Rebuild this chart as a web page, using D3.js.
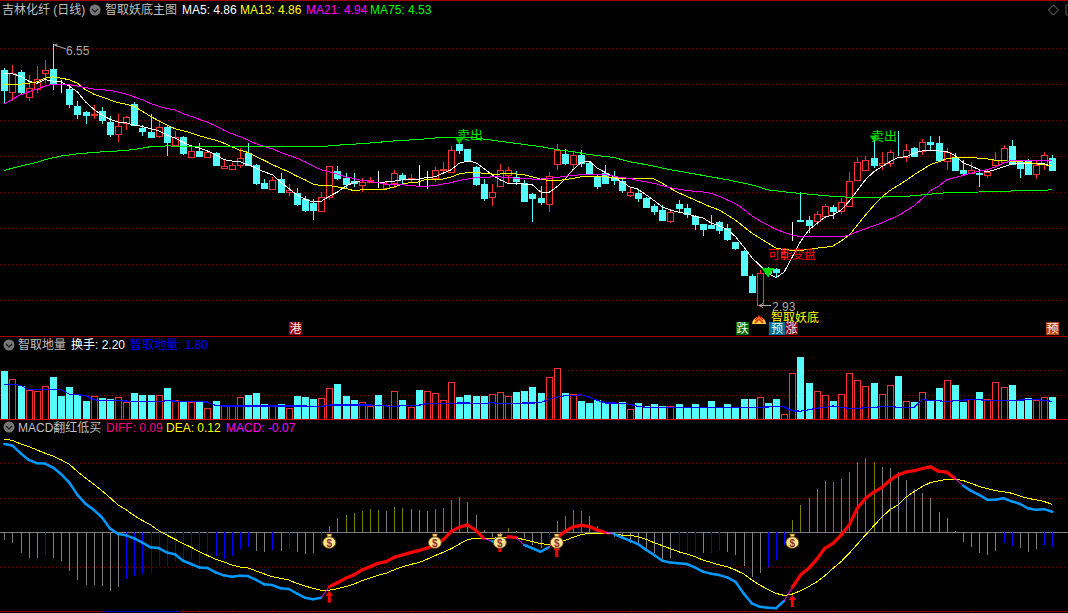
<!DOCTYPE html>
<html><head><meta charset="utf-8">
<style>html,body{margin:0;padding:0;background:#000;overflow:hidden}svg{display:block}text{font-family:"Liberation Sans","Noto Sans CJK SC",sans-serif;font-size:12px}</style>
<script src="https://cdn.jsdelivr.net/npm/d3@7/dist/d3.min.js"></script></head><body><svg id="c" width="1068" height="613"></svg>
<script>
const open=[6.19,5.89,6.16,5.82,5.93,6.15,6.21,5.97,5.93,5.70,
5.61,5.57,5.62,5.47,5.31,5.46,5.72,5.39,5.33,5.28,
5.40,5.15,5.26,4.99,5.07,4.99,5.04,4.84,4.82,4.87,
5.04,4.88,4.63,4.54,4.68,4.50,4.48,4.40,4.35,4.24,
4.43,4.79,4.70,4.65,4.60,4.64,4.63,4.56,4.63,4.74,
4.68,4.68,4.69,4.70,4.81,4.78,5.17,5.10,4.85,4.61,
4.43,4.59,4.74,4.71,4.62,4.47,4.42,4.34,4.89,5.03,
4.89,5.01,4.90,4.72,4.76,4.69,4.65,4.46,4.48,4.42,
4.31,4.25,4.10,4.33,4.28,4.17,4.06,4.04,4.08,4.00,
3.81,3.68,3.33,2.93,3.44,3.43,3.60,4.09,4.11,4.11,
4.10,4.17,4.29,4.24,4.31,4.67,4.81,4.97,4.88,4.90,
5.06,4.99,5.11,5.07,5.19,5.18,4.93,4.99,4.81,4.77,
4.76,4.73,4.87,4.91,5.14,4.91,4.94,4.75,4.89,4.97];
const close=[5.91,6.15,5.89,5.95,6.07,6.19,6.00,5.97,5.72,5.58,
5.57,5.58,5.50,5.30,5.41,5.54,5.43,5.35,5.26,5.40,
5.19,5.26,5.04,5.07,5.00,5.05,4.88,4.86,4.87,4.97,
4.87,4.63,4.56,4.67,4.50,4.53,4.34,4.25,4.25,4.43,
4.86,4.69,4.61,4.63,4.64,4.66,4.63,4.61,4.76,4.68,
4.69,4.68,4.69,4.81,4.82,5.09,5.08,4.93,4.61,4.41,
4.50,4.81,4.80,4.65,4.38,4.41,4.36,4.72,5.09,4.90,
5.02,4.90,4.77,4.59,4.63,4.66,4.53,4.50,4.42,4.29,
4.23,4.11,4.22,4.28,4.20,4.06,3.99,4.00,3.97,3.85,
3.72,3.35,3.11,3.38,3.38,3.39,3.67,4.09,4.10,4.04,
4.19,4.31,4.23,4.36,4.65,4.92,4.95,4.87,4.90,5.06,
5.05,5.08,5.00,5.19,5.17,4.94,5.06,4.81,4.76,4.80,
4.75,4.78,4.94,5.11,4.89,4.84,4.75,4.87,5.01,4.81];
const high=[6.22,6.27,6.19,6.12,6.25,6.33,6.55,6.06,5.99,5.76,
5.63,5.71,5.68,5.55,5.58,5.56,5.75,5.43,5.58,5.50,
5.43,5.35,5.28,5.15,5.18,5.09,5.06,4.94,4.90,5.11,
5.18,4.89,4.68,4.71,4.76,4.61,4.55,4.44,4.40,4.50,
4.86,4.86,4.76,4.76,4.69,4.71,4.79,4.64,4.81,4.77,
4.75,4.88,4.79,4.85,4.92,5.14,5.21,5.10,4.86,4.68,
4.61,4.89,4.85,4.79,4.67,4.48,4.58,4.78,5.17,5.10,
5.06,5.08,4.92,4.74,4.87,4.79,4.69,4.55,4.53,4.43,
4.33,4.32,4.23,4.39,4.33,4.18,4.06,4.18,4.10,4.06,
3.81,3.69,3.36,3.42,3.46,3.44,3.72,4.09,4.50,4.17,
4.24,4.34,4.32,4.41,4.78,4.98,5.00,5.23,5.05,5.08,
5.35,5.17,5.12,5.23,5.28,5.28,5.11,5.04,4.94,4.91,
4.81,4.81,5.05,5.15,5.22,4.95,4.96,4.94,5.05,5.01];
const low=[5.72,5.76,5.85,5.77,5.87,6.01,5.91,5.88,5.66,5.51,
5.45,5.51,5.45,5.26,5.20,5.36,5.41,5.28,5.25,5.25,
5.00,5.12,5.02,4.98,4.99,4.98,4.87,4.82,4.81,4.84,
4.86,4.60,4.54,4.53,4.49,4.44,4.31,4.22,4.11,4.23,
4.39,4.67,4.55,4.57,4.50,4.62,4.56,4.55,4.55,4.61,
4.64,4.57,4.54,4.64,4.77,4.77,5.03,4.91,4.58,4.37,
4.30,4.59,4.61,4.60,4.36,4.09,4.32,4.22,4.80,4.87,
4.82,4.85,4.76,4.54,4.61,4.60,4.48,4.43,4.36,4.28,
4.18,4.10,4.07,4.22,4.14,3.97,3.89,3.99,3.92,3.82,
3.70,3.35,3.10,2.93,3.32,3.32,3.56,3.82,4.09,3.93,
4.04,4.16,4.13,4.19,4.31,4.67,4.80,4.84,4.81,4.85,
5.00,4.91,4.98,5.01,5.09,4.91,4.80,4.80,4.74,4.75,
4.57,4.70,4.85,4.90,4.88,4.69,4.73,4.68,4.81,4.80];
const ma5=[6.14,6.14,6.11,6.04,6.01,6.06,6.04,6.03,5.97,5.89,
5.75,5.65,5.57,5.51,5.47,5.46,5.43,5.41,5.38,5.35,
5.29,5.25,5.19,5.14,5.11,5.07,5.02,4.95,4.93,4.92,
4.88,4.83,4.78,4.74,4.64,4.55,4.46,4.40,4.36,4.37,
4.44,4.50,4.58,4.63,4.66,4.65,4.63,4.64,4.65,4.67,
4.68,4.68,4.70,4.71,4.76,4.81,4.90,4.93,4.91,4.83,
4.74,4.67,4.62,4.62,4.61,4.60,4.50,4.49,4.57,4.68,
4.81,4.91,4.93,4.83,4.77,4.71,4.64,4.57,4.54,4.46,
4.38,4.29,4.25,4.22,4.20,4.16,4.14,4.07,4.03,3.98,
3.88,3.74,3.59,3.48,3.37,3.31,3.39,3.60,3.81,3.97,
4.06,4.15,4.18,4.25,4.37,4.52,4.67,4.78,4.85,4.92,
4.98,4.99,5.04,5.07,5.08,5.07,5.06,5.01,4.91,4.86,
4.81,4.78,4.81,4.85,4.89,4.89,4.90,4.89,4.89,4.86];
const ma13=[6.00,6.00,6.00,6.01,6.03,6.08,6.10,6.08,6.06,6.01,
5.92,5.86,5.82,5.78,5.74,5.72,5.69,5.62,5.55,5.49,
5.43,5.38,5.35,5.32,5.28,5.25,5.22,5.18,5.13,5.08,
5.05,4.99,4.94,4.88,4.83,4.78,4.72,4.67,4.61,4.59,
4.59,4.57,4.55,4.52,4.53,4.53,4.54,4.54,4.57,4.61,
4.63,4.64,4.68,4.68,4.68,4.71,4.75,4.77,4.77,4.76,
4.75,4.75,4.76,4.75,4.74,4.71,4.68,4.66,4.66,4.67,
4.69,4.71,4.72,4.72,4.71,4.70,4.69,4.69,4.69,4.69,
4.68,4.62,4.55,4.49,4.44,4.39,4.34,4.29,4.25,4.18,
4.11,4.02,3.93,3.86,3.79,3.72,3.70,3.69,3.69,3.70,
3.72,3.73,3.75,3.82,3.90,4.04,4.18,4.31,4.43,4.52,
4.59,4.66,4.74,4.81,4.88,4.92,4.96,4.98,4.98,4.98,
4.97,4.96,4.94,4.94,4.92,4.92,4.91,4.89,4.88,4.86];
const ma21=[5.72,5.79,5.85,5.89,5.93,5.97,6.00,6.00,5.99,5.97,
5.95,5.93,5.92,5.91,5.89,5.86,5.82,5.78,5.73,5.69,
5.66,5.64,5.59,5.55,5.51,5.47,5.42,5.36,5.31,5.27,
5.22,5.17,5.13,5.10,5.05,5.01,4.97,4.92,4.86,4.81,
4.78,4.75,4.71,4.69,4.66,4.65,4.63,4.61,4.61,4.60,
4.59,4.58,4.58,4.59,4.61,4.63,4.66,4.68,4.70,4.70,
4.71,4.71,4.70,4.69,4.69,4.68,4.68,4.69,4.70,4.72,
4.73,4.74,4.75,4.75,4.74,4.72,4.70,4.69,4.66,4.64,
4.62,4.59,4.56,4.54,4.52,4.51,4.50,4.48,4.44,4.39,
4.34,4.26,4.17,4.10,4.04,3.98,3.94,3.90,3.88,3.88,
3.88,3.88,3.88,3.88,3.90,3.95,3.99,4.03,4.07,4.12,
4.17,4.24,4.31,4.41,4.52,4.58,4.67,4.70,4.73,4.76,
4.79,4.81,4.85,4.90,4.94,4.94,4.94,4.94,4.94,4.94];
const ma75At=[0,2,4,5,7,9,11,14,16,18,20,24,28,32,36,39,42,44,46,48,51,53,55,58,60,62,64,66,68,70,72,75,77,79,82,84,87,89,92,94,97,99,102,105,108,111,114,116,120,122,127,129];
const ma75=[4.80,4.86,4.91,4.95,5.00,5.03,5.05,5.07,5.09,5.13,5.14,5.13,5.13,5.13,5.13,5.13,5.16,5.17,5.19,5.21,5.23,5.25,5.26,5.25,5.22,5.19,5.16,5.13,5.09,5.06,5.02,4.98,4.92,4.88,4.81,4.77,4.71,4.67,4.60,4.53,4.49,4.47,4.44,4.42,4.43,4.44,4.47,4.49,4.50,4.51,4.52,4.53];
const turnover=[4.90,4.07,3.40,2.97,2.87,3.37,4.30,2.30,3.30,2.60,
1.80,2.37,2.17,2.07,2.27,1.70,2.70,2.40,2.50,2.47,
3.20,1.97,1.83,1.70,1.70,1.17,1.80,1.37,1.37,2.27,
2.50,2.70,1.50,1.37,1.50,1.17,2.30,2.20,2.00,2.17,
3.20,3.60,2.30,1.90,1.77,1.37,2.50,1.47,2.87,1.90,
1.27,3.00,2.87,2.67,1.97,3.77,2.20,2.40,2.30,2.30,
2.57,2.77,2.37,2.80,2.90,3.30,2.70,4.27,5.17,2.70,
2.57,1.80,1.60,1.90,1.67,1.67,1.70,1.07,1.60,1.30,
1.50,1.30,1.37,1.50,1.20,1.50,1.17,1.80,1.17,1.50,
1.17,2.00,2.00,2.27,1.60,2.00,0.47,4.67,6.30,3.70,
2.87,2.47,1.80,2.57,4.67,3.97,3.37,3.70,2.57,3.47,
4.40,1.87,1.70,2.77,1.80,3.20,3.97,3.50,1.70,2.07,
2.80,2.07,3.77,3.27,3.50,1.80,2.10,1.97,2.27,2.20];
const lowVol=[3.53,3.53,3.43,3.03,3.03,3.00,3.00,2.97,2.53,2.47,
2.40,1.97,1.87,1.87,1.87,1.83,1.77,1.77,1.77,1.77,
1.87,1.83,1.80,1.80,1.77,1.73,1.37,1.33,1.33,1.33,
1.33,1.33,1.33,1.33,1.33,1.33,1.33,1.33,1.27,1.27,
1.43,1.43,1.43,1.43,1.43,1.43,1.37,1.33,1.27,1.37,
1.37,1.40,1.57,1.57,1.57,1.60,1.63,1.63,1.60,1.57,
1.67,1.57,1.57,1.60,1.63,1.63,1.67,2.00,2.23,2.37,
2.37,2.47,2.23,1.90,1.63,1.63,1.60,1.50,1.30,1.20,
1.17,1.17,1.17,1.17,1.17,1.17,1.17,1.17,1.17,1.17,
1.17,1.17,1.17,1.20,1.23,1.27,1.23,0.83,0.80,0.93,
1.10,1.17,1.33,1.20,1.07,1.03,1.17,1.17,1.27,1.27,
1.20,1.20,1.20,1.97,1.90,1.87,1.77,1.87,1.93,1.97,
1.97,1.87,1.87,1.87,1.87,1.93,1.97,1.97,1.90,1.80];
// flat days whose turnover bar is drawn as a rising day
const flatUpDays=[52,97];
const macd=[-0.033,-0.045,-0.088,-0.111,-0.111,-0.098,-0.111,-0.123,-0.166,-0.206,
-0.228,-0.228,-0.232,-0.253,-0.238,-0.201,-0.188,-0.179,-0.175,-0.144,
-0.146,-0.127,-0.123,-0.117,-0.134,-0.113,-0.102,-0.115,-0.102,-0.074,
-0.065,-0.079,-0.085,-0.076,-0.079,-0.074,-0.085,-0.094,-0.089,-0.055,
0.027,0.062,0.075,0.082,0.092,0.101,0.097,0.092,0.108,0.104,
0.100,0.097,0.092,0.100,0.104,0.140,0.153,0.130,0.075,0.010,
-0.019,-0.026,0.019,0.006,-0.026,-0.055,-0.069,-0.033,0.049,0.071,
0.097,0.092,0.071,0.027,0.003,-0.019,-0.019,-0.048,-0.055,-0.076,
-0.091,-0.117,-0.113,-0.084,-0.084,-0.091,-0.091,-0.088,-0.079,-0.085,
-0.097,-0.146,-0.192,-0.175,-0.149,-0.120,-0.055,0.053,0.118,0.149,
0.188,0.222,0.218,0.231,0.261,0.304,0.322,0.304,0.284,0.278,
0.261,0.227,0.188,0.170,0.149,0.088,0.062,0.006,-0.040,-0.062,
-0.088,-0.097,-0.079,-0.048,-0.058,-0.066,-0.084,-0.074,-0.055,-0.065];
// g = grey, o = olive, b = blue
const macdKind="ggggg"+"bgggg"+"ggggg"+"bbbbb"+"bbbbb"+"bbbbb"+"bggbg"+"bgggb"+"ooooo"+"oogoo"+"gggoo"+"ooggg"+"ggogg"+"ggboo"+"ooggg"+"ggggg"+"gggbb"+"bgbbg"+"ggggb"+"bbooo"+"ooooo"+"ooogg"+"ggggg"+"ggggg"+"gggbb"+"gggbb";
const diff=[0.382,0.375,0.342,0.313,0.299,0.297,0.280,0.251,0.215,0.162,
0.123,0.097,0.065,0.017,-0.007,-0.013,-0.026,-0.045,-0.065,-0.068,
-0.087,-0.095,-0.123,-0.137,-0.152,-0.154,-0.173,-0.186,-0.192,-0.188,
-0.189,-0.206,-0.225,-0.228,-0.242,-0.245,-0.264,-0.283,-0.289,-0.283,
-0.235,-0.218,-0.199,-0.185,-0.163,-0.149,-0.134,-0.127,-0.108,-0.098,
-0.088,-0.079,-0.069,-0.055,-0.033,0.003,0.022,0.032,0.010,-0.026,
-0.038,-0.048,-0.019,-0.023,-0.055,-0.069,-0.084,-0.065,-0.026,0.003,
0.023,0.030,0.025,0.010,-0.001,-0.007,-0.022,-0.036,-0.051,-0.076,
-0.098,-0.123,-0.131,-0.134,-0.137,-0.152,-0.170,-0.179,-0.185,-0.195,
-0.214,-0.264,-0.307,-0.322,-0.326,-0.328,-0.296,-0.238,-0.185,-0.156,
-0.117,-0.069,-0.048,-0.012,0.032,0.104,0.147,0.173,0.193,0.224,
0.248,0.261,0.266,0.276,0.283,0.264,0.260,0.234,0.202,0.179,
0.162,0.141,0.141,0.147,0.134,0.123,0.104,0.097,0.100,0.089];
const dea=[0.401,0.398,0.382,0.371,0.356,0.342,0.330,0.313,0.294,0.263,
0.234,0.208,0.180,0.150,0.118,0.097,0.072,0.051,0.032,0.007,
-0.012,-0.030,-0.048,-0.065,-0.084,-0.100,-0.117,-0.128,-0.141,-0.150,
-0.154,-0.167,-0.180,-0.192,-0.199,-0.206,-0.221,-0.232,-0.242,-0.251,
-0.250,-0.244,-0.235,-0.225,-0.209,-0.198,-0.186,-0.177,-0.162,-0.149,
-0.139,-0.131,-0.117,-0.101,-0.087,-0.071,-0.051,-0.032,-0.026,-0.026,
-0.026,-0.023,-0.022,-0.023,-0.032,-0.040,-0.049,-0.053,-0.048,-0.035,
-0.022,-0.010,-0.004,-0.004,-0.004,-0.006,-0.012,-0.013,-0.019,-0.030,
-0.045,-0.058,-0.071,-0.084,-0.094,-0.105,-0.120,-0.130,-0.141,-0.149,
-0.163,-0.180,-0.206,-0.228,-0.247,-0.264,-0.273,-0.267,-0.253,-0.235,
-0.214,-0.188,-0.156,-0.127,-0.091,-0.051,-0.012,0.027,0.065,0.097,
0.118,0.152,0.176,0.198,0.215,0.222,0.229,0.229,0.224,0.212,
0.198,0.189,0.180,0.175,0.169,0.157,0.147,0.140,0.133,0.121];
const priceGrid=[6.5,6,5.5,5,4.5,4,3.5,3];
const volGrid=[2.5,5];
const macdGrid=[0.3,0.15,-0.15];
const bagAt=[40,53,61,68,97], bagVal=[-0.04,-0.04,-0.04,-0.04,-0.04];
const arrowAt=[40,61,68,97], arrowVal=[-0.253,-0.033,-0.055,-0.271];
const sellAt=[56,107], sellVal=[5.19,5.23];
const dateTicks=[22,24,28,33,38,46,50,54,60,65,71,77,82,91,96,102,108,113,119];

const n=open.length;
[close,high,low,ma5,ma13,ma21,turnover,lowVol,macd,diff,dea].forEach((a,k)=>{if(a.length!==n)throw new Error("len "+k+" "+a.length)});
if(macdKind.length!==n)throw new Error("kind "+macdKind.length);

const svg=d3.select("#c");
svg.append("rect").attr("width",1068).attr("height",613).attr("fill","#000");
const x=d3.scaleLinear().domain([0,n-1]).range([4.33,1052.3]);
const px=d=>Math.round(x(d))+0.5;
const y=d3.scaleLinear().domain([5,3]).range([156,300]);
const yV=d3.scaleLinear().domain([0,5]).range([419,370]);
const yM=d3.scaleLinear().domain([0,0.15]).range([532.3,497.6]);
const RED="#ff3232",CY="#54fcfc",GRID="#800000";
const hline=(g,yy,col,w,dash,x0=0,x1=1068)=>g.append("line").attr("x1",x0).attr("x2",x1).attr("y1",yy).attr("y2",yy).attr("stroke",col).attr("stroke-width",w).attr("stroke-dasharray",dash||null).attr("shape-rendering","crispEdges");

// frame + grid
const bg=svg.append("g");
priceGrid.forEach(p=>hline(bg,Math.round(y(p))+.5,GRID,1,"1 3"));
volGrid.forEach(p=>hline(bg,Math.round(yV(p))+.5,GRID,1,"1 3"));
macdGrid.forEach(p=>hline(bg,Math.round(yM(p))+.5,GRID,1,"1 3"));
hline(bg,0.5,"#a00000",1.5);
hline(bg,336.5,"#a00000",1);
hline(bg,419.5,"#e00000",1);
hline(bg,611.5,"#8c0000",1);
hline(bg,611.5,"#0000c8",1,null,103,180);
dateTicks.forEach(i=>bg.append("line").attr("x1",px(i)).attr("x2",px(i)).attr("y1",609.5).attr("y2",612).attr("stroke","#8c0000").attr("shape-rendering","crispEdges"));

// candles
const idx=d3.range(n);
const colOf=i=>close[i]>open[i]?RED:close[i]<open[i]?CY:"#fff";
const cg=svg.append("g").attr("shape-rendering","crispEdges");
cg.selectAll("line.w").data(idx).join("line").attr("class","w").attr("x1",px).attr("x2",px)
 .attr("y1",i=>y(high[i])).attr("y2",i=>y(low[i])).attr("stroke",colOf);
cg.selectAll("rect.b").data(idx).join("rect").attr("class","b")
 .attr("x",i=>px(i)-3).attr("width",6)
 .attr("y",i=>Math.round(y(Math.max(open[i],close[i])))+.5)
 .attr("height",i=>Math.max(0,Math.round(y(Math.min(open[i],close[i])))-Math.round(y(Math.max(open[i],close[i])))))
 .attr("fill",i=>close[i]>open[i]?"#000":colOf(i)).attr("stroke",colOf);

// MA lines
const maG=svg.append("g").attr("fill","none").attr("stroke-width",1).attr("shape-rendering","crispEdges");
const ln=d3.line().x(d=>x(d[0])).y(d=>y(d[1]));
maG.append("path").attr("d",ln(ma5.map((v,i)=>[i,v]))).attr("stroke","#fff");
maG.append("path").attr("d",ln(ma13.map((v,i)=>[i,v]))).attr("stroke","#ffff00");
maG.append("path").attr("d",ln(ma21.map((v,i)=>[i,v]))).attr("stroke","#ff00ff");
maG.append("path").attr("d",ln(ma75.map((v,k)=>[ma75At[k],v]))).attr("stroke","#00ff00");

const T=(s,xx,yy,c,extra)=>{const t=svg.append("text").attr("x",xx).attr("y",yy).attr("fill",c).text(s);if(extra)Object.entries(extra).forEach(([k,v])=>t.attr(k,v));return t};

// high / low annotations
svg.append("path").attr("d",`M${px(6)+1} 45 l3 -1 m-3 1 l3 1.5 M${px(6)+1} 45 L66 49`).attr("stroke","#aaa").attr("fill","none");
T("6.55",66,55,"#aaa");
svg.append("path").attr("d",`M759 305.5 l4 -2 m-4 2 l4 2 M759 305.5 L771 305.5`).attr("stroke","#aaa").attr("fill","none");
T("2.93",772,311,"#aaa");

// sell signals
sellAt.forEach((i,k)=>{
  const X=x(i),Y=y(sellVal[k]);
  svg.append("path").attr("d",`M${X-4} ${Y-4}h8l-4 6z`).attr("fill","#00c000");
});
T("卖出",457,140,"#00e800",{"textLength":26,"lengthAdjust":"spacingAndGlyphs"});
T("卖出",871,141,"#00e800",{"textLength":26,"lengthAdjust":"spacingAndGlyphs"});
T("可能变盘",768,259,"#ff0000");
svg.append("path").attr("d",`M${x(94)-6.5} 268h13l-6.5 9z`).attr("fill","#00e000");
T("智取妖底",771,322,"#ffff00");
// low marker icon
svg.append("path").attr("d","M752 324a7 7 0 0 1 14 0z").attr("fill","#ffd040");
svg.append("path").attr("d","M755 323l4 -4 4 4M755 320l4 -4 4 4").attr("stroke","#e02000").attr("stroke-width",1.5).attr("fill","none");
// tags
const tag=(s,x0,w,bgc,fg)=>{svg.append("rect").attr("x",x0).attr("y",322).attr("width",w).attr("height",13).attr("fill",bgc);T(s,x0+(w-12)/2,333,fg)};
tag("港",289,13,"#900000","#ffe0e0");
tag("跌",736,13,"#006400","#f0fff0");
tag("预",769,16,"#00708c","#e0ffff");
tag("涨",785,13,"#800010","#ffe0e0");
tag("预",1046,13,"#b84000","#fff0e0");

// volume
const vg=svg.append("g").attr("shape-rendering","crispEdges");
const volUp=i=>close[i]>open[i]||flatUpDays.includes(i);
vg.selectAll("rect").data(idx).join("rect")
 .attr("x",i=>px(i)-3).attr("width",6)
 .attr("y",i=>Math.round(yV(turnover[i]))+.5).attr("height",i=>418.5-Math.round(yV(turnover[i])))
 .attr("fill",i=>volUp(i)?"#000":CY).attr("stroke",i=>volUp(i)?RED:CY);
hline(vg,419.5,"#e00000",1);
svg.append("path").attr("d",d3.line().x((d,i)=>x(i)).y(d=>yV(d))(lowVol)).attr("fill","none").attr("stroke","#0000ff").attr("stroke-width",1.2).attr("shape-rendering","crispEdges");

// MACD
hline(svg,532.5,"#808080",1);
const KC={g:"#808080",o:"#808000",b:"#0000ff"};
svg.append("g").attr("shape-rendering","crispEdges").selectAll("line").data(idx).join("line")
 .attr("x1",px).attr("x2",px).attr("y1",yM(0)).attr("y2",i=>yM(macd[i])).attr("stroke",i=>KC[macdKind[i]]);
svg.append("path").attr("d",d3.line().x((d,i)=>x(i)).y(d=>yM(d))(dea)).attr("fill","none").attr("stroke","#ffff00").attr("stroke-width",1).attr("shape-rendering","crispEdges");
const dg=svg.append("g").attr("fill","none").attr("stroke-linecap","round");
const isUp=i=>diff[i]>=dea[i];
for(let i=0;i<n-1;i++){
  const a=isUp(i),b=isUp(i+1);
  dg.append("line").attr("x1",x(i)).attr("y1",yM(diff[i])).attr("x2",x(i+1)).attr("y2",yM(diff[i+1]))
    .attr("stroke",a!==b?"#ff00ff":a?"#ff0000":"#0099ff").attr("stroke-width",a!==b?1:a?3.2:2.5);
}
// arrows
arrowAt.forEach((i,k)=>{const X=x(i),Y=yM(arrowVal[k]);
  svg.append("path").attr("d",`M${X} ${Y}l3.8 5h-2.3v7h-3v-7h-2.3z`).attr("fill","#ff0000");});
// money bags
bagAt.forEach((i,k)=>{const g=svg.append("g").attr("transform",`translate(${x(i)},${yM(bagVal[k])})`);
  g.append("path").attr("d","M-2.5 -7.5h5l-1 3h-3z").attr("fill","#ffe27a").attr("stroke","#a06010").attr("stroke-width",.7);
  g.append("ellipse").attr("cy",1).attr("rx",6.5).attr("ry",5.8).attr("fill","#fbe68e").attr("stroke","#6b4a10").attr("stroke-width",1);
  g.append("text").attr("text-anchor","middle").attr("y",5).attr("fill","#8a3030").attr("font-weight","bold").style("font-size","10px").text("$");
});

// headers
const icon=(cx,cy)=>{svg.append("circle").attr("cx",cx).attr("cy",cy).attr("r",5.5).attr("fill","#777");
  svg.append("path").attr("d",`M${cx-3} ${cy-1}l3 3 3 -3`).attr("stroke","#222").attr("stroke-width",1.3).attr("fill","none");};
T("吉林化纤 (日线)",2,14,"#c0c0c0");
icon(95,10);
T("智取妖底主图",105,14,"#c0c0c0");
T("MA5: 4.86",182,14,"#ffffff");
T("MA13: 4.86",240,14,"#ffff00");
T("MA21: 4.94",306,14,"#ff00ff");
T("MA75: 4.53",370,14,"#00ff00");
icon(9,345);
T("智取地量",18,349,"#c0c0c0");
T("换手: 2.20",71,349,"#ffffff");
T("智取地量: 1.80",130,349,"#0000ff");
icon(9,427);
T("MACD翻红低买",18,432,"#c0c0c0");
T("DIFF: 0.09",106,432,"#ff0080");
T("DEA: 0.12",166,432,"#ffff00");
T("MACD: -0.07",226,432,"#ff00ff");
svg.append("path").attr("d","M1053.5 5l5 5 -5 5 -5 -5z").attr("fill","none").attr("stroke","#777");
svg.append("path").attr("d","M1068 5h-2v10h2").attr("fill","none").attr("stroke","#555");
</script></body></html>
